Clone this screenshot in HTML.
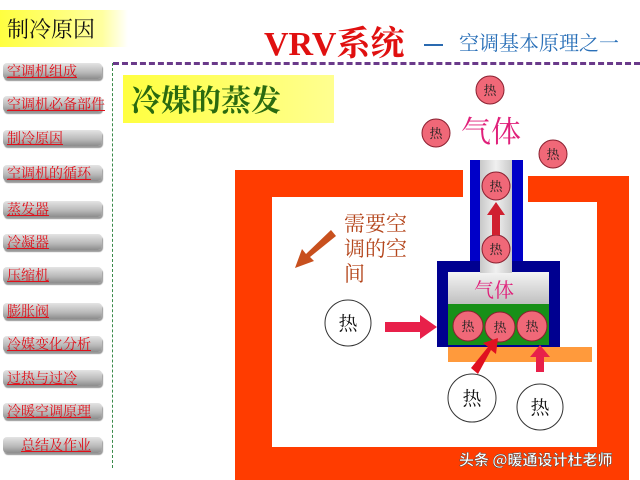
<!DOCTYPE html>
<html><head><meta charset="utf-8"><style>
body{margin:0;width:640px;height:480px;overflow:hidden;background:#fff;position:relative;font-family:"Liberation Serif","Noto Serif CJK SC",serif}
.a{position:absolute}
.btn{position:absolute;left:3px;width:99px;height:16px;border-radius:4px;background:linear-gradient(#e4e4e4,#b8b8b8 60%,#8c8c8c);box-shadow:1px 2px 1px #999;font:14px "Noto Serif CJK SC",serif;color:#e0101a;text-decoration:underline;line-height:16px;padding-left:4px;box-sizing:border-box;white-space:nowrap;overflow:visible}
</style></head><body>
<div class="a" style="left:0;top:10px;width:128px;height:37px;background:linear-gradient(90deg,#ffff40,#ffffa0 80%,#fff);font:22px 'Noto Serif CJK SC',serif;line-height:37px;padding-left:7px;box-sizing:border-box;color:#111">制冷原因</div>
<div class="a" style="left:264px;top:16px;font:bold 34px 'Liberation Serif','Noto Serif CJK SC',serif;color:#e01010;white-space:nowrap">VRV系统</div>
<div class="a" style="left:424px;top:44px;width:19px;height:2px;background:#2a6ab0"></div>
<div class="a" style="left:459px;top:29px;font:20px 'Noto Serif CJK SC',serif;color:#2a70b8;white-space:nowrap;line-height:26px">空调基本原理之一</div>
<div class="a" style="left:113px;top:62px;width:527px;height:0;border-top:3px dashed #6a3a8a"></div>
<div class="a" style="left:112px;top:63px;width:0;height:405px;border-left:1px dashed #3a8a4a"></div>
<div class="a" style="left:123px;top:75px;width:211px;height:48px;background:linear-gradient(90deg,#ffff40,#ffff90);font:bold 30px 'Noto Serif CJK SC',serif;color:#2a6a10;line-height:46px;padding-left:8px;box-sizing:border-box">冷媒的蒸发</div>
<div class="btn" style="top:63px">空调机组成</div>
<div class="btn" style="top:96px">空调机必备部件</div>
<div class="btn" style="top:130px">制冷原因</div>
<div class="btn" style="top:165px">空调机的循环</div>
<div class="btn" style="top:201px">蒸发器</div>
<div class="btn" style="top:234px">冷凝器</div>
<div class="btn" style="top:267px">压缩机</div>
<div class="btn" style="top:303px">膨胀阀</div>
<div class="btn" style="top:336px">冷媒变化分析</div>
<div class="btn" style="top:370px">过热与过冷</div>
<div class="btn" style="top:403px">冷暖空调原理</div>
<div class="btn" style="top:437px;padding-left:18px">总结及作业</div>
<svg class="a" style="left:0;top:0" width="640" height="480" font-family="Noto Serif CJK SC,serif">
<defs><linearGradient id="g" x1="0" x2="1"><stop offset="0" stop-color="#c8c8c8"/><stop offset=".5" stop-color="#f0f0f0"/><stop offset="1" stop-color="#c8c8c8"/></linearGradient>
<linearGradient id="gv" y1="0" y2="1" x1="0" x2="0"><stop offset="0" stop-color="#f4f4f4"/><stop offset="1" stop-color="#c0c0c0"/></linearGradient></defs>
<path d="M235 170H463V197H272V447H597V202H528V176H629V480H235Z" fill="#ff3c00"/>
<rect x="470" y="160" width="53" height="105" fill="#0000c8"/>
<rect x="480" y="160" width="32" height="110" fill="url(#g)"/>
<rect x="437" y="261" width="123" height="86" fill="#000090"/>
<rect x="448" y="272" width="101" height="32" fill="url(#gv)"/>
<rect x="480" y="261" width="32" height="12" fill="url(#g)"/>
<rect x="448" y="304" width="101" height="41" fill="#189018"/>
<rect x="448" y="347" width="144" height="15" fill="#ff9a3c"/>
<text x="474" y="297" font-size="20" fill="#e0207a">气体</text>
<text x="461" y="142" font-size="30" fill="#e0207a">气体</text>
<g stroke="#8a2030" stroke-width="1" fill="#f06878">
<circle cx="490" cy="90" r="14"/><circle cx="436" cy="133" r="14"/><circle cx="553" cy="154" r="14"/>
<circle cx="496" cy="186" r="14"/><circle cx="496" cy="249" r="14"/>
<circle cx="468" cy="326" r="15"/><circle cx="500" cy="327" r="15"/><circle cx="532" cy="326" r="15"/>
</g>
<g font-size="13" fill="#222" text-anchor="middle">
<text x="490" y="95">热</text><text x="436" y="138">热</text><text x="553" y="159">热</text>
<text x="496" y="191">热</text><text x="496" y="254">热</text>
<text x="468" y="331">热</text><text x="500" y="332">热</text><text x="532" y="331">热</text>
</g>
<g stroke="#333" stroke-width="1" fill="#fff">
<circle cx="348" cy="323" r="23"/><circle cx="472" cy="398" r="24"/><circle cx="540" cy="407" r="23"/>
</g>
<g font-size="19" fill="#111" text-anchor="middle">
<text x="348" y="330">热</text><text x="472" y="405">热</text><text x="540" y="414">热</text>
</g>
<g fill="#e8204a">
<path d="M385 322H420V315L437 327L420 339V332H385Z"/>
<path d="M492 235V215H487L496 202L505 215H500V235Z" fill="#d02030"/>
<path d="M536 372V357H530L540 345L550 357H544V372Z"/>
<path d="M478 374L471 368L488 347L483 343L498 338L496 354L491 350Z" fill="#e01020"/>
</g>
<path d="M336 236L331 230L306 254L302 249L295 268L314 261L310 257Z" fill="#c8501e"/>
<g font-size="21" fill="#b4461c"><text x="344" y="231">需要空</text><text x="344" y="256">调的空</text><text x="344" y="281">间</text></g>
<text x="459" y="465" font-size="15" font-weight="bold" fill="#fff" stroke="#444" stroke-width=".4" font-family="Noto Sans CJK SC,sans-serif">头条 @暖通设计杜老师</text>
</svg>
</body></html>
